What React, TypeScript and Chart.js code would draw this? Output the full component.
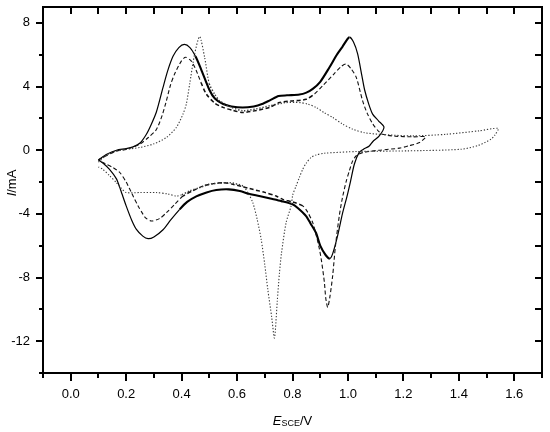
import React, { useEffect, useRef } from "react";
import { Chart, registerables } from "chart.js";

Chart.register(...registerables);

// ---------- data ----------
const solidE = [
  0.1, 0.13, 0.165, 0.2, 0.225, 0.25, 0.273, 0.29, 0.309, 0.333, 0.35, 0.369, 0.39, 0.41, 0.43, 0.45, 0.47, 0.5, 0.52,
  0.55, 0.58, 0.62, 0.66, 0.69, 0.72, 0.75, 0.78, 0.825, 0.85, 0.873, 0.9, 0.933, 0.96, 0.98, 1.005, 1.02, 1.035, 1.05,
  1.06, 1.075, 1.089, 1.11, 1.13,
  1.113, 1.09, 1.077, 1.055, 1.04, 1.023, 1.01, 0.998, 0.98, 0.963, 0.945, 0.935, 0.92, 0.9, 0.885, 0.865, 0.849, 0.82,
  0.8, 0.76, 0.72, 0.68, 0.645, 0.61, 0.57, 0.525, 0.49, 0.453, 0.42, 0.393, 0.36, 0.333, 0.3, 0.279, 0.26, 0.237, 0.22,
  0.2, 0.18, 0.165, 0.14, 0.116, 0.1,
];
const solidI = [
  -0.6, -0.25, 0.0, 0.1, 0.21, 0.45, 1.0, 1.6, 2.4, 3.95, 5.0, 5.9, 6.45, 6.65, 6.45, 5.9, 5.1, 3.8, 3.25,
  2.9, 2.75, 2.68, 2.75, 2.9, 3.15, 3.4, 3.45, 3.5, 3.62, 3.85, 4.3, 5.2, 6.0, 6.5, 7.1, 6.8, 6.05, 4.7,
  3.8, 2.9, 2.27, 1.85, 1.45,
  0.9, 0.55, 0.27, 0.05, -0.15, -0.88, -1.9, -2.8, -4.0, -5.35, -6.5, -6.8, -6.6, -6.0, -5.2, -4.6, -4.14, -3.65,
  -3.4, -3.2, -3.04, -2.88, -2.75, -2.56, -2.46, -2.5, -2.65, -2.9, -3.25, -3.72, -4.4, -5.0, -5.45, -5.56, -5.4, -4.98, -4.4,
  -3.5, -2.5, -1.8, -1.2, -0.8, -0.6,
];

const dashedE = [
  0.1, 0.165, 0.2, 0.249, 0.28, 0.309, 0.33, 0.345, 0.36, 0.375, 0.399, 0.414, 0.435, 0.453, 0.47, 0.489, 0.52, 0.549,
  0.585, 0.621, 0.67, 0.717, 0.753, 0.8, 0.849, 0.88, 0.909, 0.95, 0.975, 0.993, 1.012, 1.03, 1.053, 1.07, 1.09, 1.11,
  1.125, 1.17, 1.234, 1.28,
  1.258, 1.22, 1.186, 1.113, 1.053, 1.03, 1.017, 1.005, 0.993, 0.98, 0.969, 0.955, 0.945, 0.935, 0.927, 0.92, 0.915,
  0.905, 0.897, 0.885, 0.873, 0.855, 0.837, 0.8, 0.765, 0.741, 0.7, 0.645, 0.585, 0.549, 0.515, 0.477, 0.44, 0.405,
  0.375, 0.345, 0.32, 0.291, 0.27, 0.261, 0.243, 0.225, 0.2, 0.177, 0.153, 0.125, 0.1,
];
const dashedI = [
  -0.6, -0.05, 0.05, 0.38, 0.8, 1.3, 2.2, 3.1, 4.1, 4.8, 5.6, 5.84, 5.6, 5.0, 4.25, 3.53, 2.95, 2.69,
  2.5, 2.37, 2.5, 2.69, 3.0, 3.1, 3.2, 3.55, 4.05, 4.8, 5.25, 5.42, 5.1, 4.58, 3.1, 2.3, 1.64, 1.2,
  1.0, 0.88, 0.84, 0.84,
  0.48, 0.28, 0.13, 0.0, -0.15, -0.35, -0.67, -1.3, -2.0, -3.0, -4.1, -6.0, -7.87, -9.2, -9.87, -9.3, -8.3,
  -7.0, -6.2, -5.3, -4.55, -3.9, -3.5, -3.25, -3.09, -2.88, -2.65, -2.41, -2.14, -2.04, -2.1, -2.25, -2.55, -2.88,
  -3.4, -3.93, -4.3, -4.45, -4.25, -4.03, -3.5, -2.88, -2.0, -1.4, -1.1, -0.85, -0.65,
];

const dottedE = [
  0.1, 0.13, 0.165, 0.2, 0.249, 0.3, 0.345, 0.381, 0.405, 0.417, 0.429, 0.447, 0.465, 0.483, 0.5, 0.52, 0.537, 0.58,
  0.621, 0.67, 0.717, 0.777, 0.825, 0.855, 0.885, 0.915, 0.945, 0.98, 1.017, 1.06, 1.113, 1.234, 1.354, 1.474, 1.542,
  1.53, 1.516, 1.47, 1.408, 1.216, 1.035, 0.915, 0.885, 0.867, 0.85, 0.837, 0.825, 0.813, 0.801, 0.795, 0.777, 0.76,
  0.753, 0.745, 0.735, 0.725, 0.711, 0.7, 0.687, 0.672, 0.657, 0.64, 0.621, 0.573, 0.5, 0.465, 0.429, 0.4, 0.381, 0.35,
  0.309, 0.25, 0.2, 0.18, 0.165, 0.14, 0.116, 0.1,
];
const dottedI = [
  -0.75, -0.3, -0.05, 0.05, 0.17, 0.4, 0.8, 1.43, 2.27, 2.9, 4.16, 6.05, 7.14, 5.84, 4.16, 3.5, 3.1, 2.7,
  2.48, 2.6, 2.79, 3.0, 3.0, 2.9, 2.69, 2.35, 2.06, 1.65, 1.32, 1.1, 1.0, 0.9, 1.0, 1.22, 1.37,
  0.95, 0.69, 0.3, 0.06, -0.04, -0.08, -0.19, -0.3, -0.46, -0.8, -1.2, -1.7, -2.25, -2.8, -3.5, -4.55, -6.5,
  -7.7, -9.5, -11.8, -10.5, -8.76, -7.2, -5.6, -4.3, -3.3, -2.7, -2.25, -2.04, -2.14, -2.35, -2.56, -2.8, -2.88, -2.75,
  -2.66, -2.66, -2.66, -2.35, -2.04, -1.6, -1.2, -1.05,
];

// ---------- axes ----------
const xMin = -0.1;
const xMax = 1.7;
const yMin = -14;
const yMax = 9;
const xMajorTicks = [0.0, 0.2, 0.4, 0.6, 0.8, 1.0, 1.2, 1.4, 1.6];
const xMinorTicks = [-0.1, 0.1, 0.3, 0.5, 0.7, 0.9, 1.1, 1.3, 1.5, 1.7];
const yMajorTicks = [-12, -8, -4, 0, 4, 8];
const yMinorTicks = [-14, -10, -6, -2, 2, 6];

const FONT = "'Liberation Sans', Arial, sans-serif";

const zip = (xs: number[], ys: number[]) => xs.map((x, i) => ({ x, y: ys[i] }));

const framePlugin = {
  id: "frameTicks",
  afterDraw(chart: any) {
    const { ctx, chartArea: a, scales } = chart;
    const xs = scales.x;
    const ys = scales.y;
    ctx.save();
    ctx.strokeStyle = "#000";
    ctx.lineWidth = 2;
    ctx.lineCap = "butt";
    ctx.beginPath();
    ctx.rect(a.left, a.top, a.right - a.left, a.bottom - a.top);
    ctx.stroke();
    ctx.beginPath();
    const allX = [...xMajorTicks, ...xMinorTicks];
    for (const v of allX) {
      const px = Math.round(xs.getPixelForValue(v));
      const major = xMajorTicks.includes(v);
      ctx.moveTo(px, a.bottom);
      ctx.lineTo(px, a.bottom + (major ? 8 : 5));
      ctx.moveTo(px, a.top);
      ctx.lineTo(px, a.top + 7);
    }
    const allY = [...yMajorTicks, ...yMinorTicks];
    for (const v of allY) {
      const py = Math.round(ys.getPixelForValue(v));
      const major = yMajorTicks.includes(v);
      ctx.moveTo(a.left, py);
      ctx.lineTo(a.left - (major ? 7 : 4), py);
      ctx.moveTo(a.right, py);
      ctx.lineTo(a.right - 7, py);
    }
    ctx.stroke();

    // axis titles
    ctx.fillStyle = "#000";
    ctx.textBaseline = "alphabetic";
    const big = `13px ${FONT}`;
    const bigI = `italic 13px ${FONT}`;
    const small = `9px ${FONT}`;
    ctx.font = bigI;
    const wE = ctx.measureText("E").width;
    ctx.font = small;
    const wS = ctx.measureText("SCE").width;
    ctx.font = big;
    const wV = ctx.measureText("/V").width;
    const total = wE + wS + wV;
    const cx = (a.left + a.right) / 2;
    let x0 = cx - total / 2;
    const base = 425;
    ctx.textAlign = "left";
    ctx.font = bigI;
    ctx.fillText("E", x0, base);
    x0 += wE;
    ctx.font = small;
    ctx.fillText("SCE", x0, base + 1);
    x0 += wS;
    ctx.font = big;
    ctx.fillText("/V", x0, base);

    ctx.save();
    ctx.translate(16, 183);
    ctx.rotate(-Math.PI / 2);
    ctx.font = bigI;
    const wI = ctx.measureText("I").width;
    ctx.font = big;
    const wm = ctx.measureText("/mA").width;
    let y0 = -(wI + wm) / 2;
    ctx.font = bigI;
    ctx.fillText("I", y0, 0);
    y0 += wI;
    ctx.font = big;
    ctx.fillText("/mA", y0, 0);
    ctx.restore();

    ctx.restore();
  },
};

// noisy (thicker) parts of each sweep: forward sweep up to the second anodic peak, reverse sweep below the cathodic peak
const noisyWidth = (thin: number, thick: number, fwd: [number, number], rev: [number, number]) => (c: any) => {
  const a = c.p0.parsed.x;
  const b = c.p1.parsed.x;
  const r = b >= a ? fwd : rev;
  return a >= r[0] && a <= r[1] && b >= r[0] && b <= r[1] ? thick : thin;
};

const zeroPad = (s: any) => {
  s.paddingTop = 0;
  s.paddingBottom = 0;
  s.paddingLeft = 0;
  s.paddingRight = 0;
};

export default function App() {
  const ref = useRef<HTMLCanvasElement | null>(null);
  useEffect(() => {
    if (!ref.current) return;
    const chart = new Chart(ref.current, {
      type: "scatter",
      data: {
        datasets: [
          {
            label: "dotted",
            data: zip(dottedE, dottedI),
            showLine: true,
            borderColor: "#3a3a3a",
            borderWidth: 1.1,
            borderDash: [1.3, 1.8],
            pointRadius: 0,
            tension: 0.25,
            segment: { borderWidth: noisyWidth(1.1, 1.5, [0.5, 0.85], [0.4, 0.63]) },
          },
          {
            label: "dashed",
            data: zip(dashedE, dashedI),
            showLine: true,
            borderColor: "#111",
            borderWidth: 1.1,
            borderDash: [4, 2.5],
            pointRadius: 0,
            tension: 0.25,
            segment: { borderWidth: noisyWidth(1.1, 1.5, [0.46, 0.9], [0.4, 0.85]) },
          },
          {
            label: "solid",
            data: zip(solidE, solidI),
            showLine: true,
            borderColor: "#000",
            borderWidth: 1.2,
            pointRadius: 0,
            tension: 0.25,
            segment: { borderWidth: noisyWidth(1.2, 2.1, [0.44, 1.005], [0.37, 0.935]) },
          },
        ],
      },
      options: {
        animation: false,
        responsive: false,
        maintainAspectRatio: false,
        layout: { padding: { top: 7, right: 8, left: 0, bottom: 0 } },
        plugins: { legend: { display: false }, tooltip: { enabled: false }, title: { display: false } },
        scales: {
          x: {
            type: "linear",
            min: xMin,
            max: xMax,
            border: { display: false },
            grid: { display: false, drawTicks: false },
            afterBuildTicks: (s: any) => {
              s.ticks = xMajorTicks.map((v) => ({ value: v }));
            },
            afterFit: (s: any) => {
              s.height = 59;
              zeroPad(s);
            },
            ticks: {
              padding: 14,
              color: "#000",
              font: { family: FONT, size: 13 },
              maxRotation: 0,
              autoSkip: false,
              callback: (v: any) => Number(v).toFixed(1),
            },
          },
          y: {
            type: "linear",
            min: yMin,
            max: yMax,
            border: { display: false },
            grid: { display: false, drawTicks: false },
            afterBuildTicks: (s: any) => {
              s.ticks = yMajorTicks.map((v) => ({ value: v }));
            },
            afterFit: (s: any) => {
              s.width = 43;
              zeroPad(s);
            },
            ticks: {
              padding: 13,
              color: "#000",
              font: { family: FONT, size: 13 },
              autoSkip: false,
              callback: (v: any) => String(v),
            },
          },
        },
      },
      plugins: [framePlugin],
    });
    return () => chart.destroy();
  }, []);
  return (
    <div style={{ position: "fixed", left: 0, top: 0, width: 550, height: 432, background: "#fff" }}>
      <canvas ref={ref} width={550} height={432} style={{ width: 550, height: 432, display: "block" }} />
    </div>
  );
}
